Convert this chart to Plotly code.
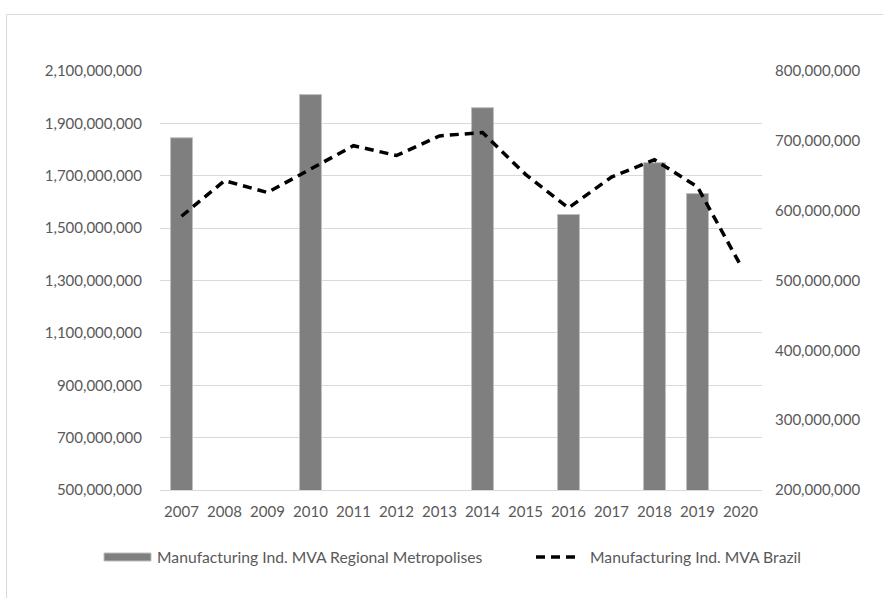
import plotly.graph_objects as go

years = ["2007", "2008", "2009", "2010", "2011", "2012", "2013",
         "2014", "2015", "2016", "2017", "2018", "2019", "2020"]
regional = [1845e6, None, None, 2010e6, None, None, None,
            1960e6, None, 1552e6, None, 1750e6, 1632e6, None]
brazil = [592e6, 643e6, 626e6, 659e6, 693e6, 679e6, 707e6,
          712e6, 652e6, 604e6, 648e6, 673e6, 634e6, 522e6]
left_ticks = [500e6 + 200e6 * i for i in range(9)]
right_ticks = [200e6 + 100e6 * i for i in range(7)]

name_bar = "Manufacturing Ind. MVA Regional Metropolises"
name_line = "Manufacturing Ind. MVA Brazil"

FONT = "Lato"
TXT = "#595959"
GRID = "#d9d9d9"

fig = go.Figure()
fig.add_trace(go.Bar(x=years, y=regional, name=name_bar,
                     marker=dict(color="#7f7f7f", line=dict(color="#bfbfbf", width=1)),
                     yaxis="y", showlegend=False))
fig.add_trace(go.Scatter(x=years, y=brazil, name=name_line, mode="lines",
                         line=dict(color="black", width=3.5, dash="9px,6px"),
                         yaxis="y2", showlegend=False))

L, R, T, B = 160, 121, 71, 108
W, H = 883, 598
pw, ph = W - L - R, H - T - B

def px(x):
    return (x - L) / pw

def py(y):
    return (H - B - y) / ph

fig.update_layout(
    width=W, height=H,
    margin=dict(l=L, r=R, t=T, b=B),
    paper_bgcolor="white", plot_bgcolor="white",
    font=dict(family=FONT, size=15, color=TXT),
    bargap=0.49,
    showlegend=False,
    xaxis=dict(type="category", showgrid=False, showline=True, linecolor=GRID,
               linewidth=1, ticks="", ticklabelstandoff=8,
               tickfont=dict(family=FONT, size=15, color=TXT)),
    yaxis=dict(range=[500e6, 2100e6], tickvals=left_ticks,
               ticktext=[f"{v:,.0f}" for v in left_ticks],
               showgrid=True, gridcolor=GRID, gridwidth=1, zeroline=False,
               showline=False, ticks="", ticklabelstandoff=17,
               tickfont=dict(family=FONT, size=15, color=TXT)),
    yaxis2=dict(range=[200e6, 800e6], tickvals=right_ticks,
                ticktext=[f"{v:,.0f}" for v in right_ticks],
                overlaying="y", side="right", showgrid=False, zeroline=False,
                showline=False, ticks="", ticklabelstandoff=12,
                tickfont=dict(family=FONT, size=15, color=TXT)),
)

shapes = [
    # outer chart border (top and left visible)
    dict(type="rect", xref="paper", yref="paper",
         x0=px(6.5), x1=px(890), y0=py(605), y1=py(14.5),
         line=dict(color=GRID, width=1), fillcolor="rgba(0,0,0,0)", layer="below"),
    # legend swatches
    dict(type="rect", xref="paper", yref="paper",
         x0=px(104), x1=px(151), y0=py(561), y1=py(553),
         fillcolor="#7f7f7f", line=dict(color="#bfbfbf", width=1)),
    dict(type="line", xref="paper", yref="paper",
         x0=px(536), x1=px(580), y0=py(557), y1=py(557),
         line=dict(color="black", width=3.5, dash="9px,6px")),
]
annotations = [
    dict(text=name_bar, xref="paper", yref="paper", x=px(155), y=py(557),
         xanchor="left", yanchor="middle", showarrow=False,
         font=dict(family=FONT, size=15.7, color=TXT)),
    dict(text=name_line, xref="paper", yref="paper", x=px(588), y=py(557),
         xanchor="left", yanchor="middle", showarrow=False,
         font=dict(family=FONT, size=15.7, color=TXT)),
]
fig.update_layout(shapes=shapes, annotations=annotations)

fig.write_html("out.html")
